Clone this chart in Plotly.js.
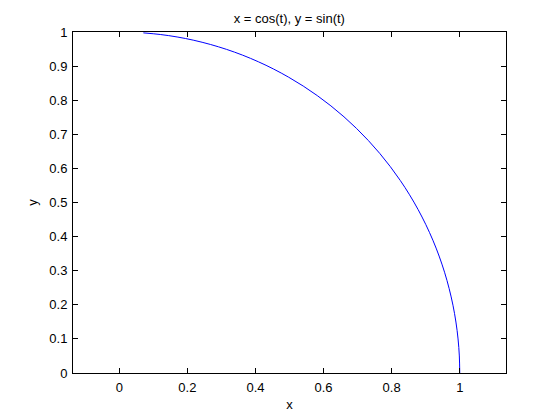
<!DOCTYPE html>
<html>
<head>
<meta charset="utf-8">
<script src="https://cdn.plot.ly/plotly-3.0.1.min.js"></script>
<style>html,body{margin:0;padding:0;background:#fff;}#chart{width:560px;height:420px;}</style>
</head>
<body>
<div id="chart"></div>
<script>
// Points read along the curve x = cos(t), y = sin(t), t from 0 to 1.5
const xValues = [1.00000, 0.99875, 0.99500, 0.98877, 0.98007, 0.96891, 0.95534, 0.93937, 0.92106, 0.90045,
  0.87758, 0.85252, 0.82534, 0.79608, 0.76484, 0.73169, 0.69671, 0.65998, 0.62161, 0.58168,
  0.54030, 0.49757, 0.45360, 0.40849, 0.36236, 0.31532, 0.26750, 0.21901, 0.16997, 0.12050, 0.07074];
const yValues = [0.00000, 0.04998, 0.09983, 0.14944, 0.19867, 0.24740, 0.29552, 0.34290, 0.38942, 0.43497,
  0.47943, 0.52269, 0.56464, 0.60519, 0.64422, 0.68164, 0.71736, 0.75128, 0.78333, 0.81342,
  0.84147, 0.86742, 0.89121, 0.91276, 0.93204, 0.94898, 0.96356, 0.97572, 0.98545, 0.99271, 0.99749];
const xTickVals = [0, 0.2, 0.4, 0.6, 0.8, 1];
const xTickText = ["0", "0.2", "0.4", "0.6", "0.8", "1"];
const yTickVals = [0, 0.1, 0.2, 0.3, 0.4, 0.5, 0.6, 0.7, 0.8, 0.9, 1];
const yTickText = ["0", "0.1", "0.2", "0.3", "0.4", "0.5", "0.6", "0.7", "0.8", "0.9", "1"];

const font = {family: "Liberation Sans, Arial, sans-serif", size: 13, color: "#000"};
const axisCommon = {
  showline: true, linecolor: "#000", linewidth: 1, mirror: "ticks",
  ticks: "inside", ticklen: 5, tickcolor: "#000", tickwidth: 1,
  showgrid: false, zeroline: false, tickfont: font
};
Plotly.newPlot("chart", [{
  x: xValues, y: yValues, type: "scatter", mode: "lines",
  line: {color: "#0000ff", width: 1, shape: "spline"}, hoverinfo: "skip"
}], {
  width: 560, height: 420,
  margin: {l: 73, r: 54, t: 32, b: 47},
  paper_bgcolor: "#fff", plot_bgcolor: "#fff",
  showlegend: false, font: font,
  title: {text: "x = cos(t), y = sin(t)", font: font, x: 0.5166, xanchor: "center", y: 0.957, yanchor: "middle"},
  xaxis: Object.assign({}, axisCommon, {
    range: [-0.1358, 1.1358], tickmode: "array", tickvals: xTickVals, ticktext: xTickText,
    ticklabelstandoff: 2,
    title: {text: "x", font: font, standoff: 6}
  }),
  yaxis: Object.assign({}, axisCommon, {
    range: [0, 1], tickmode: "array", tickvals: yTickVals, ticktext: yTickText,
    ticklabelstandoff: 2,
    title: {text: "y", font: font, standoff: 8}
  })
}, {staticPlot: true});
</script>
</body>
</html>
